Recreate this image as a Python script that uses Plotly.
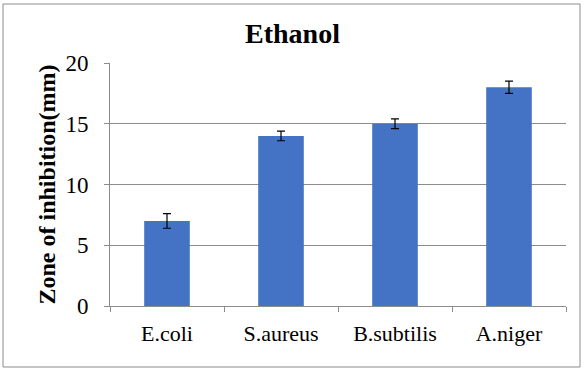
import plotly.graph_objects as go

categories = ["E.coli", "S.aureus", "B.subtilis", "A.niger"]
values = [7, 14, 15, 18]
errors = [0.6, 0.4, 0.4, 0.5]
y_ticks = [0, 5, 10, 15, 20]

serif = "'Times New Roman', 'Liberation Serif', serif"
grid = "#8c8c8c"

fig = go.Figure(go.Bar(
    x=categories, y=values,
    marker=dict(color="#4472C4", line=dict(width=0)),
    width=0.4,
    error_y=dict(type="data", array=errors, visible=True, color="#000000",
                 thickness=1.2, width=4),
))

L, R, T, B = 110, 19, 63, 65
W, H = 585, 371
pw, ph = W - L - R, H - T - B

fig.update_layout(
    width=W, height=H,
    margin=dict(l=L, r=R, t=T, b=B, autoexpand=False),
    paper_bgcolor="white", plot_bgcolor="white",
    font=dict(family=serif, color="#000000"),
    title=dict(text="<b>Ethanol</b>", x=0.5, xanchor="center", y=1 - 33 / H,
               yanchor="middle", font=dict(size=28, family=serif)),
    showlegend=False,
    xaxis=dict(
        type="category", tickson="boundaries", ticks="outside", ticklen=5,
        tickcolor=grid, showline=True, linecolor=grid, linewidth=1,
        showgrid=False, tickfont=dict(size=22, family=serif),
        ticklabelstandoff=8,
    ),
    yaxis=dict(
        range=[0, 20], tickvals=y_ticks, ticks="outside", ticklen=5,
        tickcolor=grid, showline=True, linecolor=grid, linewidth=1,
        showgrid=True, gridcolor=grid, gridwidth=1, zeroline=False,
        tickfont=dict(size=23, family=serif), ticklabelstandoff=11,
        title=dict(text="<b>Zone of inhibition(mm)</b>", font=dict(size=24, family=serif),
                   standoff=3),
    ),
    shapes=[dict(
        type="rect", xref="paper", yref="paper",
        x0=(3 - L) / pw, x1=(580 - L) / pw,
        y0=(T + ph - 367) / ph, y1=(T + ph - 4) / ph,
        line=dict(color=grid, width=1), fillcolor="rgba(0,0,0,0)", layer="below",
    )],
)

fig.write_html("out.html", config={"displayModeBar": False},
               post_script="document.body.style.margin='0px';")
